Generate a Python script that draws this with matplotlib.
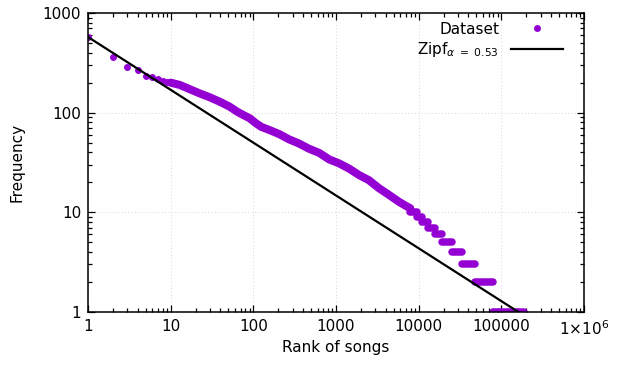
import matplotlib
matplotlib.use("Agg")
import matplotlib.pyplot as plt
import numpy as np
from matplotlib.ticker import LogLocator, NullFormatter, FixedLocator, FixedFormatter

# top ranks, plotted one dot each
top_rank = [1, 2, 3, 4, 5, 6, 7, 8, 9]
top_freq = [574, 360, 285, 266, 232, 228, 218, 210, 205]

# dense middle part of the curve
band_rank = [10, 12.8, 17, 22, 29.5, 39, 51.5, 64, 75, 90, 108, 125, 156,
             205, 270, 357, 470, 624, 824, 1087, 1435, 1892, 2500, 3296,
             4350, 5740, 7000, 7900]
band_freq = [200, 190, 172, 157, 143, 129, 115, 102, 95, 88, 78, 72, 67,
             61, 54, 49, 43.5, 39.5, 34, 31, 27.5, 23.7, 21, 17.5,
             15, 12.8, 11.6, 11]

# low frequencies: every song in [start, end] has the same count
step_freq = [10, 9, 8, 7, 6, 5, 4, 3, 2, 1]
step_start = [7900, 9460, 10900, 12800, 15600, 19300, 25000, 33300, 48300, 80300]
step_end = [9460, 10900, 12800, 15600, 19300, 25000, 33300, 48300, 80300, 186000]

zipf_c = 574
zipf_alpha = 0.53

purple = "#9400d3"

plt.rcParams['font.family'] = ['DejaVu Sans']
plt.rcParams['mathtext.fontset'] = 'dejavusans'

fig = plt.figure(figsize=(6.19, 3.67), dpi=100)
ax = fig.add_axes([0.1422, 0.1499, 0.8013, 0.8147])

ax.set_xscale('log')
ax.set_yscale('log')
ax.set_xlim(1, 1e6)
ax.set_ylim(1, 1000)

ax.grid(True, which='major', color='#c8c8c8', linestyle=(0, (1, 3)), linewidth=0.6)
ax.set_axisbelow(True)

dots, = ax.plot(top_rank, top_freq, 'o', color=purple, markersize=5,
                markeredgewidth=0, label='Dataset')
ax.plot(band_rank, band_freq, '-', color=purple, linewidth=5.8,
        solid_capstyle='round', solid_joinstyle='round')
for f, s, e in zip(step_freq, step_start, step_end):
    ax.plot([s, e], [f, f], '-', color=purple, linewidth=5.4,
            solid_capstyle='round')

r = np.array([1, step_end[-1]], dtype=float)
zline, = ax.plot(r, zipf_c * r ** (-zipf_alpha), '-', color='black', linewidth=1.6,
                 label=r'Zipf$_{\alpha\ =\ 0.53}$')

ax.xaxis.set_major_locator(FixedLocator([1, 10, 100, 1000, 1e4, 1e5, 1e6]))
ax.xaxis.set_major_formatter(FixedFormatter(['1', '10', '100', '1000', '10000',
                                             '100000', r'1×10$^{6}$']))
ax.yaxis.set_major_locator(FixedLocator([1, 10, 100, 1000]))
ax.yaxis.set_major_formatter(FixedFormatter(['1', '10', '100', '1000']))
for a in (ax.xaxis, ax.yaxis):
    a.set_minor_locator(LogLocator(base=10, subs=np.arange(2, 10), numticks=20))
    a.set_minor_formatter(NullFormatter())

ax.tick_params(which='both', direction='in', top=True, right=True, labelsize=11,
               width=0.9, color='black')
ax.tick_params(which='major', length=5, pad=5)
ax.tick_params(which='minor', length=3)
for sp in ax.spines.values():
    sp.set_linewidth(1.1)

ax.set_xlabel('Rank of songs', fontsize=11, labelpad=2)
ax.set_ylabel('Frequency', fontsize=11, labelpad=13)

ax.legend(handles=[dots, zline], loc='upper right', bbox_to_anchor=(0.980, 1.007),
          frameon=False, markerfirst=False, fontsize=11, handlelength=3.4,
          handletextpad=0.8, borderaxespad=0.3, labelspacing=0.25, numpoints=1)

fig.savefig('out.png', dpi=100)
